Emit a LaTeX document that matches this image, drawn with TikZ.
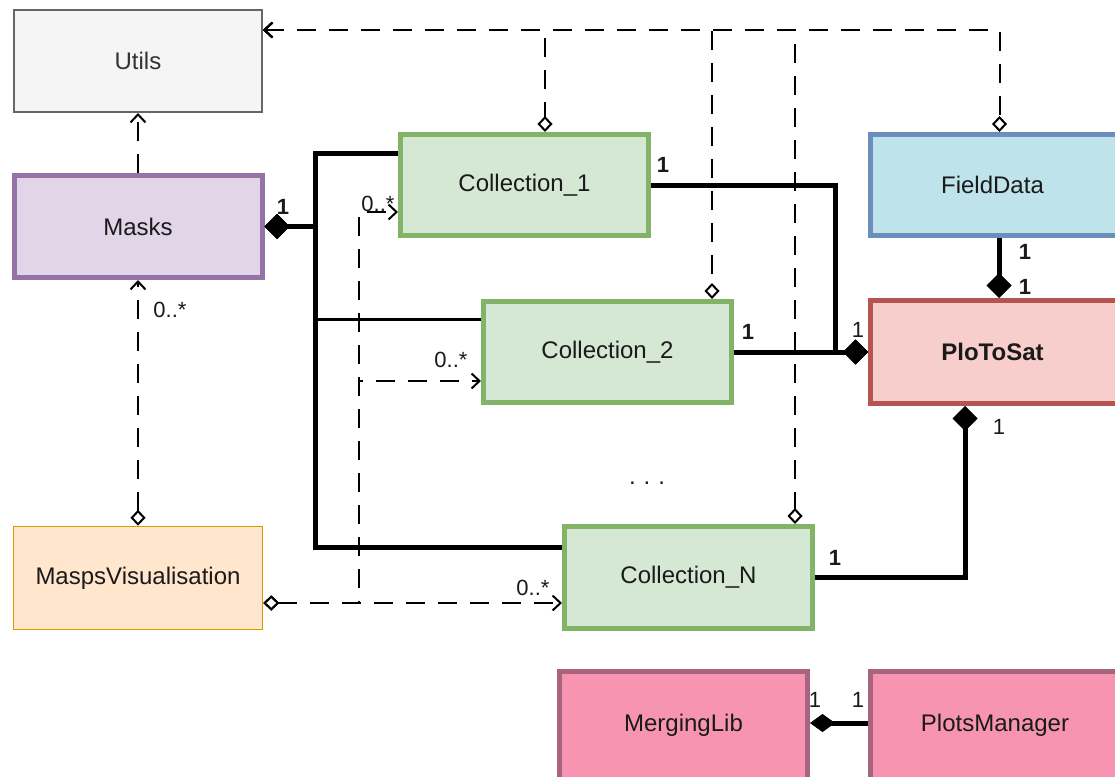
\documentclass[tikz,border=0pt]{standalone}
\usepackage{fontspec}
\setmainfont{Liberation Sans}
\usetikzlibrary{arrows.meta,calc}
\definecolor{txtc}{HTML}{1A1A1A}
\definecolor{utilf}{HTML}{F5F5F5}
\definecolor{utild}{HTML}{666666}
\definecolor{utilt}{HTML}{333333}
\definecolor{maskf}{HTML}{E1D5E7}
\definecolor{maskd}{HTML}{9673A6}
\definecolor{visf}{HTML}{FFE6CC}
\definecolor{visd}{HTML}{D79B00}
\definecolor{colf}{HTML}{D5E8D4}
\definecolor{cold}{HTML}{82B366}
\definecolor{fdf}{HTML}{BEE3EB}
\definecolor{fdd}{HTML}{6C8EBF}
\definecolor{ptsf}{HTML}{F8CECC}
\definecolor{ptsd}{HTML}{B85450}
\definecolor{pinkf}{HTML}{F694B1}
\definecolor{pinkd}{HTML}{A66480}
\tikzset{
  OA/.tip={Straight Barb[length=8pt,width=15pt,line width=2pt]},
  OD/.tip={Diamond[length=16pt,width=15pt,line width=2pt,fill=white]},
  FD/.tip={Diamond[length=25pt,width=25pt,line width=0.5pt]},
  FDT/.tip={Diamond[length=25pt,width=18pt,line width=0.5pt]},
}
\begin{document}
\begin{tikzpicture}[x=1pt,y=-1pt,
  box/.style={draw, rectangle, inner sep=0pt, minimum width=248pt, minimum height=102pt,
    font=\fontsize{24}{29}\selectfont, text=txtc},
  colbox/.style={box, fill=colf, draw=cold, line width=5pt, minimum height=101pt},
  pinkbox/.style={box, fill=pinkf, draw=pinkd, line width=5pt, minimum height=112pt,
    text height=17pt, text depth=8.8pt},
  dep/.style={line width=2pt, dash pattern=on 19pt off 13pt},
  comp/.style={line width=5pt},
  lab/.style={inner sep=0pt, font=\fontsize{22}{26}\selectfont, text=txtc},
  blab/.style={inner sep=0pt, font=\fontsize{22}{26}\selectfont\bfseries, text=txtc}
]
\useasboundingbox (0,0) rectangle (1115,776);

% classes
\node[box, fill=utilf, draw=utild, text=utilt, line width=2pt] (utils) at (138,61) {Utils};
\node[box, fill=maskf, draw=maskd, line width=5pt] (masks) at (138,226.5) {Masks};
\node[box, fill=visf, draw=visd, line width=1.5pt, minimum width=249pt, minimum height=103pt] (vis) at (138,578) {MaspsVisualisation};
\node[colbox] (c1) at (524.5,185) {Collection\_1};
\node[colbox] (c2) at (607.5,352) {Collection\_2};
\node[colbox, minimum height=102pt] (cN) at (688.5,577.5) {Collection\_N};
\node[box, fill=fdf, draw=fdd, line width=5pt, minimum width=257pt, minimum height=101pt] (fd) at (999,185) {\hspace*{-13pt}FieldData};
\node[box, fill=ptsf, draw=ptsd, line width=5pt, minimum width=257pt, minimum height=103pt,
  font=\fontsize{24}{29}\selectfont\bfseries] (pts) at (999,352) {\hspace*{-13pt}PloToSat};
\node[pinkbox] (ml) at (683.5,727.5) {MergingLib};
\node[pinkbox, minimum width=257pt] (pm) at (999,727.5) {\hspace*{-8pt}PlotsManager};
\node[inner sep=0pt, font=\fontsize{24}{29}\selectfont, text=txtc, anchor=base] (dots) at (647,484) {.\,\,.\,\,.};

% helper coordinates
\coordinate (topy) at (0,30);
\coordinate (vr) at ($(vis.east)+(0,25)$);
\coordinate (j1) at (359,212);
\coordinate (j2) at (359,381);
\coordinate (b1) at (315,153);
\coordinate (b2) at (315,319);
\coordinate (bN) at (315,547);
\coordinate (k1) at (835,352);
\coordinate (mlr) at ($(ml.east)+(0,-4.5)$);
\coordinate (pml) at ($(pm.west)+(0,-4.5)$);

% dependencies to Utils
\draw[dep,-OA] (masks.north) -- (utils.south);
\draw[dep,OA-OD] (utils.east |- topy) -| ([xshift=20.5pt]c1.north);
\draw[dep,OA-OD] (utils.east |- topy) -| ([xshift=104.5pt]c2.north);
\draw[dep,OA-OD] (utils.east |- topy) -| ([xshift=106.5pt]cN.north);
\draw[dep,OA-OD] (utils.east |- topy) -| ([xshift=0.5pt]fd.north);

% MaspsVisualisation dependencies
\draw[dep,OD-OA] (vis.north) -- (masks.south);
\draw[dep,OD-OA] (vr) -- (vr -| cN.west);
\draw[dep,OD-OA] (vr) -| (j2) -- (c2.west |- j2);
\draw[dep,OD-OA] (vr) -| (j1) -- (c1.west |- j1);

% Masks compositions
\draw[line width=3pt,FD-] (masks.east) -| (b2) -- (c2.west |- b2);
\draw[comp,FD-] (masks.east) -| (b1) -- (c1.west |- b1);
\draw[comp,FD-] (masks.east) -| (bN) -- (cN.west |- bN);

% PloToSat compositions
\draw[comp,-FD] (c1.east) -| (k1) -- (pts.west);
\draw[comp,-FD] (c2.east) -- (pts.west);
\draw[comp,-FD] (fd.south) -- (pts.north);
\draw[comp,-FD] (cN.east) -| ([xshift=-34pt]pts.south);
\draw[comp,-FDT] (pml) -- (mlr);

% multiplicities
\node[blab] (m1) at (283,207) {1};
\node[lab] (m2) at (378,204) {0..*};
\node[lab] (m3) at (451,360) {0..*};
\node[lab] (m4) at (533,588) {0..*};
\node[lab] (m5) at (170,310) {0..*};
\node[blab] (m6) at (663,165) {1};
\node[lab] (m7) at (858,330) {1};
\node[blab] (m8) at (748,332) {1};
\node[blab] (m9) at (1025,252) {1};
\node[blab] (m10) at (1025,287) {1};
\node[lab] (m11) at (999,427) {1};
\node[blab] (m12) at (835,558) {1};
\node[lab] (m13) at (815,700) {1};
\node[lab] (m14) at (858,700) {1};
\end{tikzpicture}
\end{document}
